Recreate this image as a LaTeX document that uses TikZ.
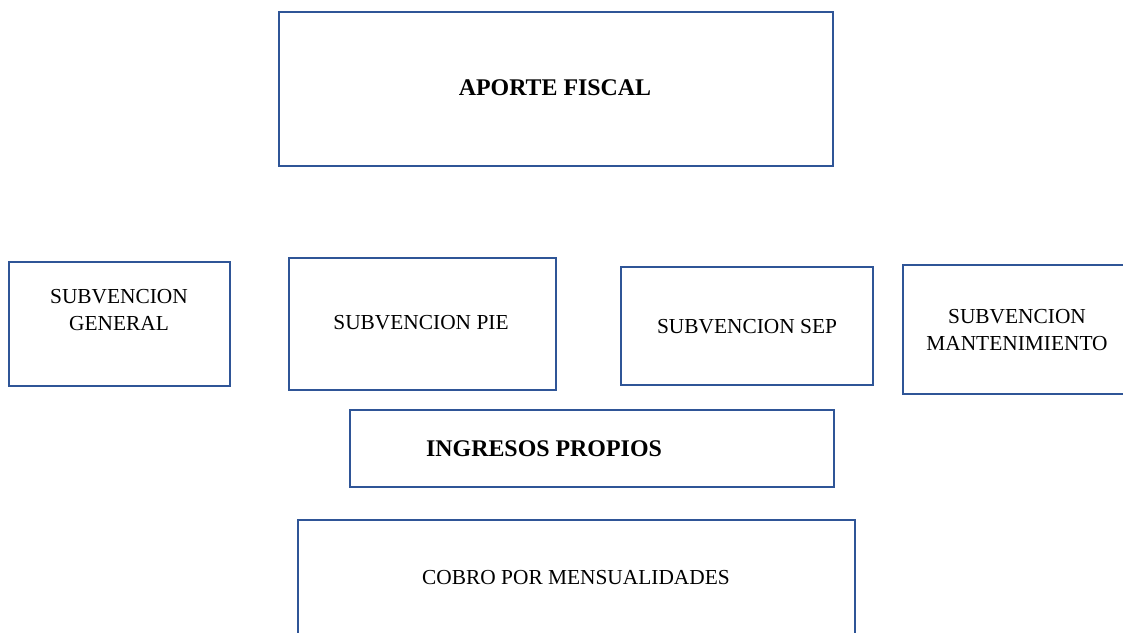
\documentclass[tikz,border=0pt]{standalone}
\usepackage{fontspec}
\setmainfont{Liberation Serif}
\definecolor{boxblue}{HTML}{2F5597}
\tikzset{
  box/.style={draw=boxblue, line width=1.9pt, rectangle, inner sep=0pt},
  lbl/.style={align=center, font=\fontsize{15.2}{18.8}\selectfont},
  lblbold/.style={lbl, font=\fontsize{17}{18.8}\selectfont\bfseries}
}
\begin{document}
\begin{tikzpicture}[x=0.025cm, y=-0.025cm]
        \useasboundingbox (0,0) rectangle (1123,632);
        \clip (0,0) rectangle (1123,632);

        \node[box, minimum width=13.85cm, minimum height=3.85cm] (aporte) at (556, 89) {};
        \node[box, minimum width=5.525cm, minimum height=3.1cm] (general) at (119.5, 324) {};
        \node[box, minimum width=6.675cm, minimum height=3.3cm] (pie) at (422.5, 324) {};
        \node[box, minimum width=6.3cm, minimum height=2.95cm] (sep) at (747, 326) {};
        \node[box, minimum width=5.925cm, minimum height=3.225cm] (mant) at (1021.5, 329.5) {};
        \node[box, minimum width=12.1cm, minimum height=1.925cm] (ingresos) at (592, 448.5) {};
        \node[box, minimum width=13.925cm, minimum height=3.5cm] (cobro) at (576.5, 590) {};

        \node[lblbold] (aporteTxt) at (555, 88) {APORTE FISCAL};
        \node[lbl] (generalTxt) at (119, 310) {SUBVENCION\\GENERAL};
        \node[lbl] (pieTxt) at (421, 323) {SUBVENCION PIE};
        \node[lbl] (sepTxt) at (747, 327) {SUBVENCION SEP};
        \node[lbl] (mantTxt) at (1017, 330) {SUBVENCION\\MANTENIMIENTO};
        \node[lblbold] (ingresosTxt) at (544, 449) {INGRESOS PROPIOS};
        \node[lbl] (cobroTxt) at (576, 578) {COBRO POR MENSUALIDADES};
    \end{tikzpicture}
\end{document}
